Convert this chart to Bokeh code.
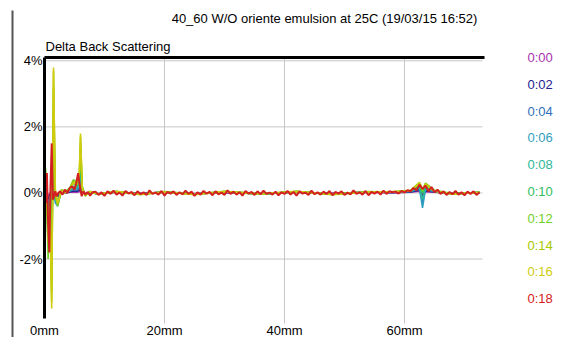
from bokeh.plotting import figure
from bokeh.models import Range1d
from bokeh.core.properties import value
from bokeh.embed import file_html
from bokeh.resources import INLINE

# ---------------- data ----------------
title_text = "40_60 W/O oriente emulsion at 25C (19/03/15 16:52)"
subtitle_text = "Delta Back Scattering"
legend_labels = ["0:00", "0:02", "0:04", "0:06", "0:08", "0:10", "0:12", "0:14", "0:16", "0:18"]
legend_colors = ["#a832b0", "#23238f", "#2f6fb8", "#2fa0c0", "#2eb898", "#2ec060",
                 "#72d02a", "#a8c800", "#cfcc10", "#d42020"]
x_ticks = [0, 20, 40, 60]
x_tick_labels = ["0mm", "20mm", "40mm", "60mm"]
y_ticks = [-2, 0, 2, 4]
y_tick_labels = ["-2%", "0%", "2%", "4%"]

# sparse sampling positions (mm) for the earlier scans
pos_sparse = [0, 0.3, 0.6, 0.9, 1.2, 1.5, 1.8, 2.2, 2.8, 3.5, 4.2, 4.8, 5.4, 5.8, 6.0, 6.3,
              6.8, 7.5, 9, 12, 16, 20, 25, 30, 36, 42, 48, 54, 58, 61, 62.5, 63, 63.5, 65, 68, 72.5]

scan_0000 = [0.05, 0.0, -0.1, 0.0, -0.15, 0.15, -0.05, -0.03, 0.02, 0.0, 0.02, 0.03, 0.02, 0.04, 0.08, 0.02,
             -0.02, 0.01, -0.02, 0.02, -0.01, 0.02, -0.02, 0.01, -0.02, 0.02, -0.01, 0.02, 0.01, 0.02, 0.05, -0.05, 0.04, 0.02, -0.01, 0.01]
scan_0002 = [0.1, -0.05, -0.2, -0.05, -0.3, 0.3, -0.1, -0.1, 0.03, 0.0, 0.03, 0.06, 0.05, 0.08, 0.15, 0.03,
             -0.03, 0.02, -0.03, 0.03, -0.02, 0.03, -0.03, 0.02, -0.03, 0.03, -0.02, 0.03, 0.01, 0.03, 0.08, -0.1, 0.06, 0.03, -0.02, 0.01]
scan_0004 = [0.2, 0.0, -0.4, -0.1, -0.6, 0.6, -0.25, -0.2, 0.04, 0.01, 0.05, 0.1, 0.08, 0.15, 0.3, 0.05,
             -0.04, 0.02, -0.03, 0.03, -0.03, 0.02, -0.03, 0.03, -0.02, 0.03, -0.03, 0.02, 0.02, 0.04, 0.12, -0.3, 0.1, 0.04, -0.02, 0.01]
scan_0006 = [0.3, 0.0, -0.6, -0.1, -0.9, 1.0, -0.3, -0.4, 0.05, 0.01, 0.06, 0.15, 0.12, 0.2, 0.5, 0.06,
             -0.05, 0.02, -0.04, 0.04, -0.03, 0.03, -0.04, 0.03, -0.03, 0.04, -0.03, 0.03, 0.02, 0.05, 0.15, -0.45, 0.12, 0.05, -0.03, 0.02]
scan_0008 = [0.5, 0.1, -1.0, -0.2, -1.5, 1.6, -0.2, -0.25, 0.06, 0.02, 0.08, 0.2, 0.15, 0.3, 0.7, 0.08,
             -0.05, 0.02, -0.04, 0.04, -0.04, 0.03, -0.04, 0.04, -0.03, 0.04, -0.04, 0.03, 0.03, 0.06, 0.2, -0.2, 0.18, 0.06, -0.03, 0.02]
scan_0010 = [0.8, 0.3, -1.6, -0.3, -2.2, 2.4, -0.15, -0.3, 0.05, 0.02, 0.1, 0.3, 0.2, 0.4, 1.0, 0.1,
             -0.06, 0.02, -0.03, 0.04, -0.04, 0.03, -0.04, 0.04, -0.03, 0.04, -0.04, 0.03, 0.03, 0.06, 0.25, 0.0, 0.22, 0.06, -0.03, 0.02]
scan_0012 = [1.0, 0.5, -2.0, -0.4, -3.0, 3.2, -0.1, -0.4, 0.1, 0.05, 0.15, 0.4, 0.35, 0.5, 1.4, 0.2,
             -0.1, 0.05, -0.03, 0.03, -0.04, 0.04, -0.03, 0.03, -0.04, 0.03, -0.03, 0.04, 0.03, 0.07, 0.28, 0.05, 0.3, 0.08, -0.02, 0.02]
scan_0014 = [0.7, 0.4, -1.5, -0.5, -3.3, 3.7, 0.0, -0.35, 0.08, 0.02, 0.12, 0.35, 0.3, 0.55, 1.7, 0.15,
             -0.08, 0.03, -0.04, 0.04, -0.05, 0.02, -0.04, 0.05, -0.02, 0.04, -0.05, 0.02, 0.04, 0.08, 0.32, 0.1, 0.28, 0.06, -0.03, 0.01]
scan_0016 = [0.4, 0.3, -0.8, -0.6, -3.5, 3.8, 0.1, -0.3, 0.05, 0.0, 0.1, 0.3, 0.25, 0.6, 1.8, 0.1,
             -0.05, 0.04, -0.03, 0.05, -0.04, 0.03, -0.05, 0.04, -0.03, 0.05, -0.04, 0.03, 0.03, 0.06, 0.3, 0.12, 0.25, 0.05, -0.04, 0.02]

# dense sampling positions (mm) for the last scan
pos_dense = [0.0, 0.2, 0.4, 0.6, 0.8, 1.0, 1.2, 1.4, 1.6, 1.8, 2.0, 2.3, 2.6, 3.0, 3.4, 3.8, 4.2, 4.6,
             5.0, 5.3, 5.6, 5.9, 6.2, 6.5, 6.8, 7.2, 7.6, 8.0,
             8.5, 9.0, 9.5, 10.0, 10.5, 11.0, 11.5, 12.0, 12.5, 13.0,
             13.5, 14.0, 14.5, 15.0, 15.5, 16.0, 16.5, 17.0, 17.5, 18.0,
             18.5, 19.0, 19.5, 20.0, 20.5, 21.0, 21.5, 22.0, 22.5, 23.0,
             23.5, 24.0, 24.5, 25.0, 25.5, 26.0, 26.5, 27.0, 27.5, 28.0,
             28.5, 29.0, 29.5, 30.0, 30.5, 31.0, 31.5, 32.0, 32.5, 33.0,
             33.5, 34.0, 34.5, 35.0, 35.5, 36.0, 36.5, 37.0, 37.5, 38.0,
             38.5, 39.0, 39.5, 40.0, 40.5, 41.0, 41.5, 42.0, 42.5, 43.0,
             43.5, 44.0, 44.5, 45.0, 45.5, 46.0, 46.5, 47.0, 47.5, 48.0,
             48.5, 49.0, 49.5, 50.0, 50.5, 51.0, 51.5, 52.0, 52.5, 53.0,
             53.5, 54.0, 54.5, 55.0, 55.5, 56.0, 56.5, 57.0, 57.5, 58.0,
             58.5, 59.0, 59.5, 60.0, 60.5, 61.0, 61.5, 62.0, 62.5, 63.0,
             63.5, 64.0, 64.5, 65.0, 65.5, 66.0, 66.5, 67.0, 67.5, 68.0,
             68.5, 69.0, 69.5, 70.0, 70.5, 71.0, 71.5, 72.0, 72.5]
scan_0018 = [0.3, -0.3, 0.6, -0.9, -1.8, 0.2, 1.5, -0.2, -0.1, 0.05, -0.1, 0.0, 0.05, -0.05, 0.1, 0.0, 0.15, 0.2,
             0.1, 0.3, 0.6, 0.2, -0.1, 0.05, -0.05, 0.03, -0.08, 0.02,
             0.04, -0.06, 0.02, -0.09, 0.05, -0.03, 0.07, -0.05, 0.01, -0.08,
             0.06, -0.02, 0.03, -0.07, 0.05, -0.04, 0.02, -0.06, 0.08, -0.03,
             0.01, -0.05, 0.06, -0.08, 0.03, -0.02, 0.05, -0.06, 0.02, -0.04,
             0.07, -0.03, 0.04, -0.09, 0.02, -0.05, 0.06, -0.02, 0.03, -0.07,
             0.05, -0.04, 0.01, -0.06, 0.08, -0.03, 0.04, -0.05, 0.02, -0.08,
             0.06, -0.02, 0.03, -0.06, 0.05, -0.04, 0.07, -0.03, 0.01, -0.05,
             0.04, -0.07, 0.02, -0.03, 0.06, -0.05, 0.03, -0.08, 0.05, -0.02,
             0.01, -0.06, 0.07, -0.04, 0.02, -0.05, 0.04, -0.03, 0.06, -0.07,
             0.03, -0.02, 0.05, -0.06, 0.01, -0.04, 0.08, -0.03, 0.02, -0.05,
             0.06, -0.07, 0.03, -0.02, 0.04, -0.05, 0.07, -0.03, 0.05, 0.02,
             0.04, -0.02, 0.06, 0.02, 0.08, 0.05, 0.15, 0.08, 0.25, 0.12,
             0.22, 0.05, 0.18, 0.02, 0.1, -0.03, 0.05, -0.06, 0.03, -0.04,
             0.06, -0.05, 0.02, -0.07, 0.04, -0.03, 0.05, -0.06, 0.02]

sparse_scans = [scan_0000, scan_0002, scan_0004, scan_0006, scan_0008,
                scan_0010, scan_0012, scan_0014, scan_0016]

# ---------------- layout (page pixels -> data) ----------------
W, H = 563, 337
PLOT_L, PLOT_R, PLOT_T, PLOT_B = 44, 482, 57, 318   # plot box in page pixels
X0, X1 = 0.0, 73.0                                   # mm at PLOT_L / PLOT_R
Y0, Y1 = -3.8, 4.1                                   # % at PLOT_B / PLOT_T
kx = (X1 - X0) / (PLOT_R - PLOT_L)
ky = (Y1 - Y0) / (PLOT_B - PLOT_T)

def dx(px):
    return X0 + (px - PLOT_L) * kx

def dy(py):
    return Y1 - (py - PLOT_T) * ky

FONT = "Liberation Sans"

p = figure(width=W, height=H, output_backend="svg", toolbar_location=None,
           x_range=Range1d(dx(0), dx(W)), y_range=Range1d(dy(H), dy(0)),
           min_border=0)
p.axis.visible = False
p.grid.visible = False
p.outline_line_color = None
p.background_fill_color = "white"
p.border_fill_color = "white"

GRID = "#c6c6c6"
# vertical grid lines (extend a little below the plot box, like tick marks)
vx = [t for t in x_ticks if t != 0]
p.segment(x0=vx, y0=[dy(PLOT_B + 5)] * len(vx), x1=vx, y1=[Y1] * len(vx),
          line_color=GRID, line_width=1)
# horizontal grid lines
p.segment(x0=[X0] * len(y_ticks), y0=y_ticks, x1=[X1] * len(y_ticks), y1=y_ticks,
          line_color=GRID, line_width=1)

# series
for scan, col in zip(sparse_scans, legend_colors[:-1]):
    p.line(pos_sparse, scan, line_color=col, line_width=1.6)
p.line(pos_dense, scan_0018, line_color=legend_colors[-1], line_width=2)

# frame: thick left axis line and thick top line
p.segment(x0=[X0], y0=[Y0], x1=[X0], y1=[Y1], line_color="black", line_width=3)
p.segment(x0=[X0], y0=[Y1], x1=[dx(PLOT_R + 2)], y1=[Y1], line_color="black", line_width=3)

# window border at far left
p.segment(x0=[dx(12)], y0=[dy(10)], x1=[dx(12)], y1=[dy(H)], line_color="#555555", line_width=2)

# tick labels
p.text(x=[dx(PLOT_L - 2)] * len(y_ticks), y=y_ticks, text=y_tick_labels,
       text_font=value(FONT), text_font_size="13px", text_align="right",
       text_baseline="middle", text_color="black")
p.text(x=x_ticks, y=[dy(330)] * len(x_ticks), text=x_tick_labels,
       text_font=value(FONT), text_font_size="13px", text_align="center",
       text_baseline="middle", text_color="black")

# titles
p.text(x=[dx(324)], y=[dy(18)], text=[title_text], text_font=value(FONT),
       text_font_size="13px", text_align="center", text_baseline="middle", text_color="black")
p.text(x=[dx(45)], y=[dy(46)], text=[subtitle_text], text_font=value(FONT),
       text_font_size="13px", text_align="left", text_baseline="middle", text_color="black")

# colour legend (text only)
p.text(x=[dx(527)] * len(legend_labels),
       y=[dy(57 + 26.8 * i) for i in range(len(legend_labels))],
       text=legend_labels, text_color=legend_colors, text_font=value(FONT),
       text_font_size="13px", text_align="left", text_baseline="middle")

open("out.html", "w").write(file_html(p, INLINE))
